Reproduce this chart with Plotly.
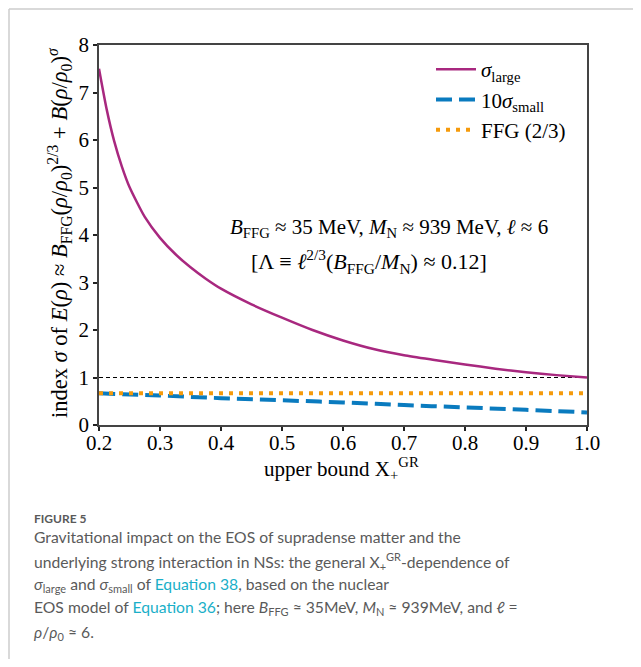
import plotly.graph_objects as go

# ---- data ----
x_large = [0.2, 0.2125, 0.225, 0.2375, 0.25, 0.275, 0.3, 0.325, 0.35, 0.375, 0.4, 0.45, 0.5, 0.55, 0.6, 0.65, 0.7, 0.75, 0.8, 0.85, 0.9, 0.95, 1.0]
sigma_large = [7.5, 6.65, 5.97, 5.44, 5.01, 4.38, 3.94, 3.6, 3.32, 3.08, 2.87, 2.54, 2.26, 2.0, 1.78, 1.6, 1.47, 1.37, 1.275, 1.185, 1.11, 1.05, 1.0]

x_small = [0.2, 0.3, 0.4, 0.5, 0.6, 0.7, 0.8, 0.9, 1.0]
sigma_small10 = [0.667, 0.62, 0.565, 0.52, 0.475, 0.42, 0.37, 0.32, 0.265]

x_ffg = [0.2, 1.0]
ffg = [2/3, 2/3]

x_ref = [0.2, 1.0]
ref_one = [1.0, 1.0]

x_ticks = [0.2, 0.3, 0.4, 0.5, 0.6, 0.7, 0.8, 0.9, 1.0]
x_ticklabels = ["0.2", "0.3", "0.4", "0.5", "0.6", "0.7", "0.8", "0.9", "1.0"]
y_ticks = [0, 1, 2, 3, 4, 5, 6, 7, 8]

PURPLE = "#A8287F"
BLUE = "#0A7BBF"
ORANGE = "#F59A0B"
SERIF = "Liberation Serif, Times New Roman, serif"
SANS = "Lato, Open Sans, sans-serif"
CAP = "#5a5a5a"
LINK = "#1AAFC8"

OFF = 8  # browser body margin
W, H = 641 - 2 * OFF, 667 - 2 * OFF
# plot area in page pixels: x 99..587, y 45..425
L, T = 99 - OFF, 45 - OFF
R = W - (587 - OFF)
B = H - (425 - OFF)
PW, PH = W - L - R, H - T - B

def px_x(px):
    return (px - OFF - L) / PW

def px_y(py):
    return (H - B - (py - OFF)) / PH

fig = go.Figure()
fig.add_trace(go.Scatter(x=x_ref, y=ref_one, mode="lines", showlegend=False,
                         line=dict(color="black", width=1, dash="4px,3px")))
fig.add_trace(go.Scatter(x=x_large, y=sigma_large, mode="lines", name="<i>σ</i><sub>large</sub>",
                         line=dict(color=PURPLE, width=2.5, shape="spline", smoothing=0.6)))
fig.add_trace(go.Scatter(x=x_small, y=sigma_small10, mode="lines", name="10<i>σ</i><sub>small</sub>",
                         line=dict(color=BLUE, width=4, dash="16px,7px", shape="spline")))
fig.add_trace(go.Scatter(x=x_ffg, y=ffg, mode="lines", name="FFG (2/3)",
                         line=dict(color=ORANGE, width=4, dash="4px,6px")))

fig.update_xaxes(range=[0.2, 1.0], tickvals=x_ticks, ticktext=x_ticklabels,
                 ticks="outside", ticklen=4, tickwidth=1.5, tickcolor="#222",
                 showline=True, linecolor="#444", linewidth=1.5, mirror=True,
                 showgrid=False, zeroline=False, automargin=False, ticklabelstandoff=-6,
                 tickfont=dict(family=SERIF, size=21, color="black"))
fig.update_yaxes(range=[0, 8], tickvals=y_ticks,
                 ticks="outside", ticklen=4, tickwidth=1.5, tickcolor="#222",
                 showline=True, linecolor="#444", linewidth=1.5, mirror=True,
                 showgrid=False, zeroline=False, automargin=False,
                 tickfont=dict(family=SERIF, size=21, color="black"))

annotations = [
    dict(x=px_x(59), y=px_y(233), textangle=-90,
         text="index <i>σ</i> of <i>E</i>(<i>ρ</i>) ≈ <i>B</i><sub>FFG</sub>(<i>ρ</i>/<i>ρ</i><sub>0</sub>)<sup>2/3</sup> + <i>B</i>(<i>ρ</i>/<i>ρ</i><sub>0</sub>)<sup><i>σ</i></sup>",
         font=dict(family=SERIF, size=22.5, color="black")),
    dict(x=px_x(341), y=px_y(469), text="upper bound X<sub>+</sub><sup>GR</sup>",
         font=dict(family=SERIF, size=21, color="black")),
    dict(x=px_x(389), y=px_y(228), text="<i>B</i><sub>FFG</sub> ≈ 35 MeV, <i>M</i><sub>N</sub> ≈ 939 MeV, <i>ℓ</i> ≈ 6",
         font=dict(family=SERIF, size=21, color="black")),
    dict(x=px_x(369), y=px_y(261), text="[Λ ≡ <i>ℓ</i><sup>2/3</sup>(<i>B</i><sub>FFG</sub>/<i>M</i><sub>N</sub>) ≈ 0.12]",
         font=dict(family=SERIF, size=22, color="black")),
]
for a in annotations:
    a.update(xref="paper", yref="paper", showarrow=False, xanchor="center", yanchor="middle")

cap_lines = [
    (518, "<b>FIGURE 5</b>", 12),
    (537, "Gravitational impact on the EOS of supradense matter and the", 15.7),
    (561, "underlying strong interaction in NSs: the general X<sub>+</sub><sup>GR</sup>-dependence of", 15.7),
    (585, f"<i>σ</i><sub>large</sub> and <i>σ</i><sub>small</sub> of <span style='color:{LINK}'>Equation 38</span>, based on the nuclear", 15.7),
    (608, f"EOS model of <span style='color:{LINK}'>Equation 36</span>; here <i>B</i><sub>FFG</sub> ≈ 35MeV, <i>M</i><sub>N</sub> ≈ 939MeV, and <i>ℓ</i> =", 15.7),
    (633, "<i>ρ</i>/<i>ρ</i><sub>0</sub> ≈ 6.", 15.7),
]
for py, txt, sz in cap_lines:
    annotations.append(dict(x=px_x(32), y=px_y(py), xref="paper", yref="paper", text=txt,
                            showarrow=False, xanchor="left", yanchor="middle",
                            font=dict(family=SANS, size=sz, color=CAP)))

shapes = [
    dict(type="line", xref="paper", yref="paper", x0=px_x(9), x1=px_x(641), y0=px_y(9), y1=px_y(9),
         line=dict(color="#cccccc", width=1.5)),
    dict(type="line", xref="paper", yref="paper", x0=px_x(9), x1=px_x(9), y0=px_y(9), y1=px_y(667),
         line=dict(color="#cccccc", width=1.5)),
]

fig.update_layout(
    width=W, height=H,
    margin=dict(l=L, r=R, t=T, b=B),
    paper_bgcolor="white", plot_bgcolor="white",
    annotations=annotations, shapes=shapes,
    legend=dict(x=px_x(431), y=px_y(49), xanchor="left", yanchor="top",
                bgcolor="rgba(0,0,0,0)", font=dict(family=SERIF, size=21, color="black"),
                tracegroupgap=0, itemwidth=40),
)

fig.write_html("out.html")
